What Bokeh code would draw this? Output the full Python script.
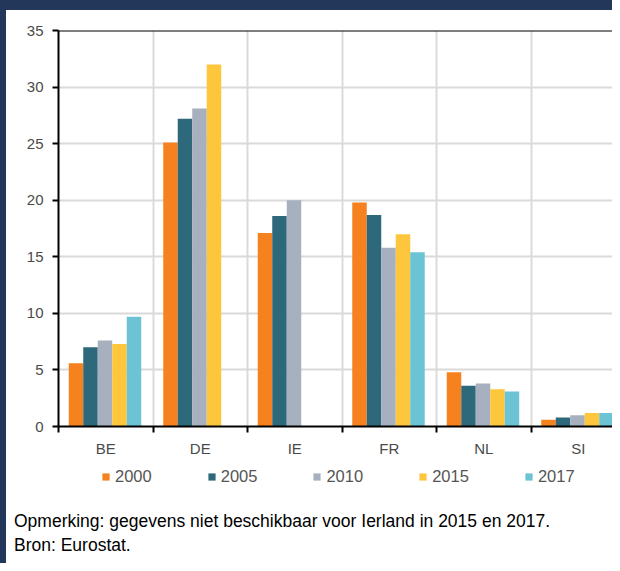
from bokeh.plotting import figure
from bokeh.layouts import column, row
from bokeh.models import (Range1d, FixedTicker, Span, Legend, LegendItem, Div,
                          ColumnDataSource, CustomJSTickFormatter)
from bokeh.embed import file_html
from bokeh.resources import INLINE

nan = float("nan")

countries = ["BE", "DE", "IE", "FR", "NL", "SI"]
years = ["2000", "2005", "2010", "2015", "2017"]
v2000 = [5.6, 25.1, 17.1, 19.8, 4.8, 0.6]
v2005 = [7.0, 27.2, 18.6, 18.7, 3.6, 0.8]
v2010 = [7.6, 28.1, 20.0, 15.8, 3.8, 1.0]
v2015 = [7.3, 32.0, nan, 17.0, 3.3, 1.2]
v2017 = [9.7, nan, nan, 15.4, 3.1, 1.2]
series = [v2000, v2005, v2010, v2015, v2017]
colors = ["#F5821F", "#2E687B", "#A6B0BE", "#FEC63D", "#6BC3D3"]
y_ticks = [0, 5, 10, 15, 20, 25, 30, 35]
note1 = "Opmerking: gegevens niet beschikbaar voor Ierland in 2015 en 2017."
note2 = "Bron: Eurostat."

NAVY = "#23375A"
FONT = "Liberation Sans"
GRID = "#dadada"
TICKTXT = "#4a4a4a"

# ---------------- main chart ----------------
p = figure(width=606, height=450, output_backend="svg", toolbar_location=None,
           x_range=Range1d(0, 554 / 94.5), y_range=Range1d(0, 35),
           min_border_left=52, min_border_right=0, min_border_top=20,
           min_border_bottom=34, outline_line_color=None,
           background_fill_color="white", border_fill_color="white")

bar_w = 0.1534
for k, (vals, col) in enumerate(zip(series, colors)):
    xs = [i + 0.492 + (k - 2) * bar_w for i in range(len(countries))]
    src = ColumnDataSource(dict(x=xs, top=vals))
    p.vbar(x="x", top="top", bottom=0, width=bar_w, source=src,
           fill_color=col, line_color=None)

xt = FixedTicker(ticks=[i + 0.5 for i in range(len(countries))],
                 minor_ticks=list(range(len(countries))))
p.xaxis.ticker = xt
p.xaxis.formatter = CustomJSTickFormatter(args=dict(labels=countries),
                                          code="return labels[Math.floor(tick)] || '';")
p.xaxis.axis_line_color = "black"
p.xaxis.axis_line_width = 2
p.xaxis.major_tick_line_color = None
p.xaxis.major_tick_out = 0
p.xaxis.major_tick_in = 0
p.xaxis.minor_tick_line_color = "black"
p.xaxis.minor_tick_line_width = 2
p.xaxis.minor_tick_out = 6
p.xaxis.minor_tick_in = 0
p.xaxis.major_label_standoff = 7
p.xaxis.major_label_text_font = FONT
p.xaxis.major_label_text_font_size = "15px"
p.xaxis.major_label_text_color = TICKTXT

p.xgrid.ticker = xt
p.xgrid.grid_line_color = None
p.xgrid.minor_grid_line_color = GRID
p.xgrid.minor_grid_line_width = 2

p.yaxis.ticker = FixedTicker(ticks=y_ticks, minor_ticks=[])
p.yaxis.axis_line_color = "black"
p.yaxis.axis_line_width = 2
p.yaxis.major_tick_line_color = "black"
p.yaxis.major_tick_line_width = 2
p.yaxis.major_tick_out = 6
p.yaxis.major_tick_in = 0
p.yaxis.minor_tick_line_color = None
p.yaxis.major_label_standoff = 9
p.yaxis.major_label_text_font = FONT
p.yaxis.major_label_text_font_size = "15px"
p.yaxis.major_label_text_color = TICKTXT
p.ygrid.grid_line_color = GRID
p.ygrid.grid_line_width = 2

p.add_layout(Span(location=y_ticks[-1], dimension="width", line_color="black", line_width=2))

# ---------------- legend strip ----------------
p2 = figure(width=606, height=45, output_backend="svg", toolbar_location=None,
            x_range=Range1d(0, 1), y_range=Range1d(0, 1),
            x_axis_location=None, y_axis_location=None,
            min_border=0, outline_line_color=None,
            background_fill_color="white", border_fill_color="white")
p2.grid.visible = False

items = []
for yr, col in zip(years, colors):
    r = p2.vbar(x=[nan], top=[nan], width=0.1, fill_color=col, line_color=None)
    items.append(LegendItem(label=yr, renderers=[r]))

legend = Legend(items=items, orientation="horizontal", location=(43, 19),
                glyph_width=9, glyph_height=9, label_standoff=5, spacing=55,
                label_text_font=FONT, label_text_font_size="16.5px",
                label_text_color="#555555", label_height=18,
                padding=5, margin=0, border_line_color=None,
                background_fill_alpha=0)
p2.add_layout(legend)

# ---------------- notes ----------------
notes = Div(text=note1 + "<br>" + note2, width=606, height=58, margin=0,
            styles={"font-family": FONT, "font-size": "17.5px", "line-height": "24px",
                    "color": "black", "padding-top": "4px", "padding-left": "8px",
                    "box-sizing": "border-box", "background-color": "white"})

top_band = Div(text="", width=606, height=10, margin=0,
               styles={"background-color": NAVY})
left_band = Div(text="", width=6, height=563, margin=0,
                styles={"background-color": NAVY})

layout = row(left_band, column(top_band, p, p2, notes, spacing=0), spacing=0)
open("out.html", "w").write(file_html(layout, INLINE))
